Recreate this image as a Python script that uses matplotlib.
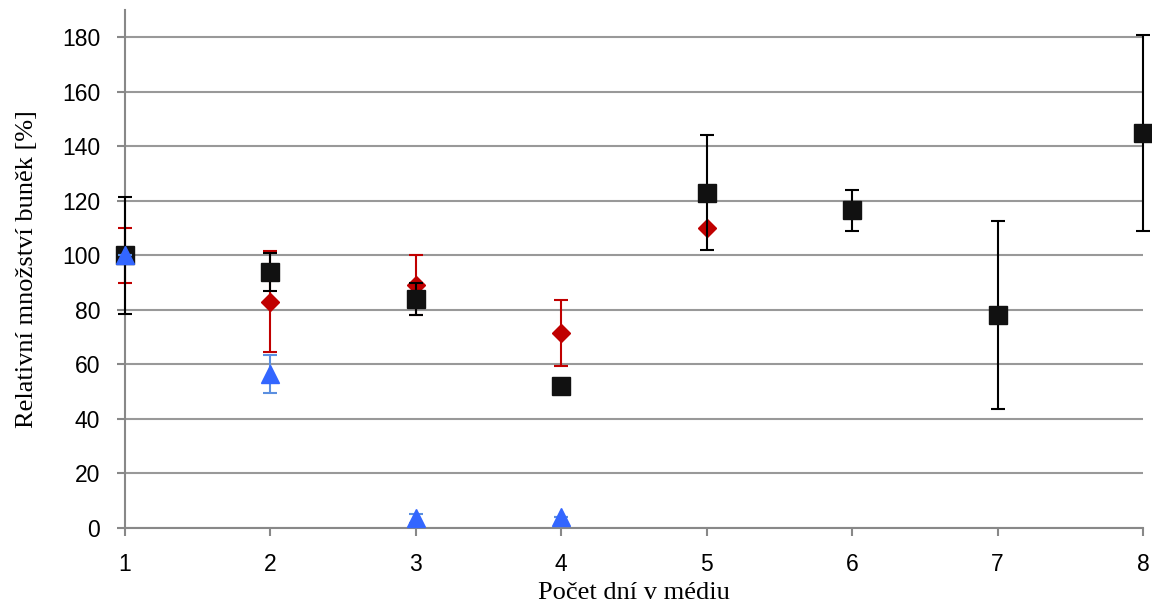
import numpy as np
import matplotlib.pyplot as plt

plt.rcParams['font.family'] = 'Liberation Sans'

days = [1, 2, 3, 4, 5, 6, 7, 8]

# black squares
black_y = [100, 94, 84, 52, 123, 116.5, 78, 145]
black_err = [21.5, 7, 6, 0, 21, 7.5, 34.5, 36]

# red diamonds
red_x = [1, 2, 3, 4, 5]
red_y = [100, 83, 89, 71.5, 110]
red_err = [10, 18.5, 11, 12, 0]

# blue triangles
blue_x = [1, 2, 3, 4]
blue_y = [100, 56.5, 3.5, 4]
blue_err = [0, 7, 1.5, 0]

fig = plt.figure(figsize=(11.52, 6.08), dpi=100)
ax = fig.add_axes([125/1152, 80/608, 1018/1152, 518/608])

ax.errorbar(red_x, red_y, yerr=red_err, fmt='D', color='#C00000', ms=9,
            ecolor='#C00000', elinewidth=1.5, capsize=5, capthick=1.5,
            clip_on=False, zorder=3)
ax.errorbar(days, black_y, yerr=black_err, fmt='s', color='#111111', ms=13,
            ecolor='black', elinewidth=1.5, capsize=5, capthick=1.5,
            clip_on=False, zorder=4)
ax.errorbar(blue_x, blue_y, yerr=blue_err, fmt='^', color='#3366FF', ms=13,
            ecolor='#5B8FE0', elinewidth=1.5, capsize=5, capthick=1.5,
            clip_on=False, zorder=5)

ax.set_xlim(1, 8)
ax.set_ylim(0, 190)
ax.set_xticks(days)
ax.set_yticks(np.arange(0, 181, 20))
ax.yaxis.grid(True, color='#999999', linewidth=1.5)
ax.set_axisbelow(True)

for s in ['top', 'right']:
    ax.spines[s].set_visible(False)
for s in ['left', 'bottom']:
    ax.spines[s].set_color('#888888')
    ax.spines[s].set_linewidth(1.5)
ax.tick_params(axis='both', colors='#888888', labelcolor='black',
               labelsize=16.5, length=6, width=1.5)
ax.tick_params(axis='x', pad=12)
ax.tick_params(axis='y', pad=12)

ax.set_xlabel('Počet dní v médiu', family='Liberation Serif', fontsize=19, labelpad=4)
ax.set_ylabel('Relativní množství buněk [%]', family='Liberation Serif', fontsize=19, labelpad=17)

fig.savefig('out.png', dpi=100)
